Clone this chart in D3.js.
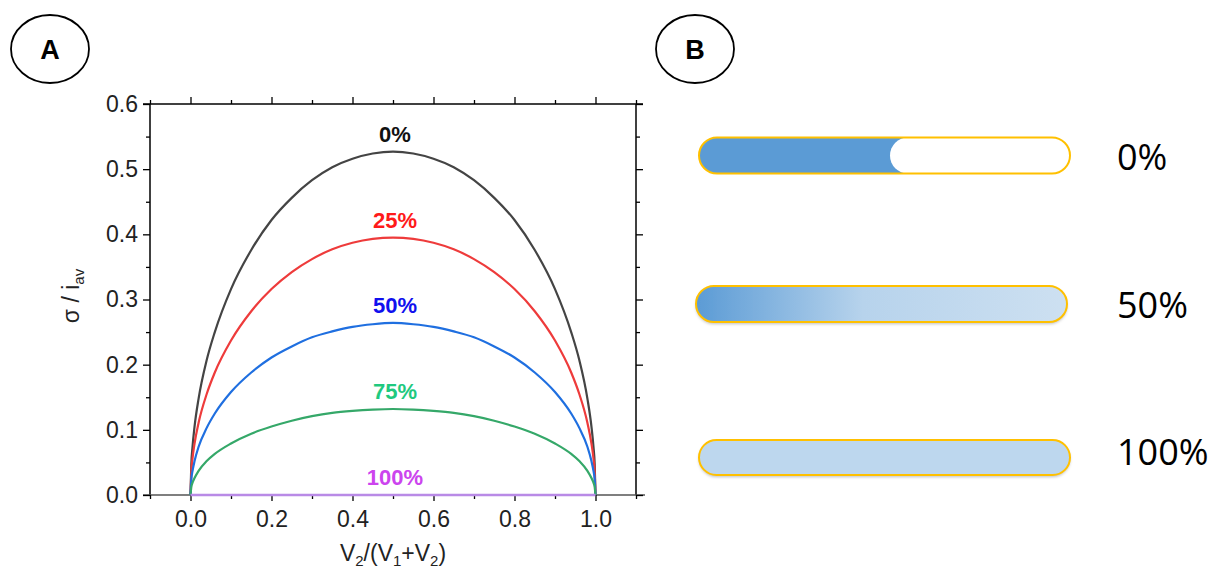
<!DOCTYPE html>
<html>
<head>
<meta charset="utf-8">
<script src="https://cdn.jsdelivr.net/npm/d3@7"></script>
<style>
  html, body { margin: 0; padding: 0; background: #fff; }
  svg { display: block; }
</style>
</head>
<body>
<svg id="chart" width="1211" height="572"></svg>
<script>
// ---------------- data ----------------
const xValues = [0, 0.002, 0.005, 0.01, 0.02, 0.04, 0.06, 0.1, 0.15, 0.2, 0.25, 0.3, 0.35, 0.4, 0.45, 0.5,
                 0.55, 0.6, 0.65, 0.7, 0.75, 0.8, 0.85, 0.9, 0.94, 0.96, 0.98, 0.99, 0.995, 0.998, 1.0];
const series0   = [0, 0.047, 0.074, 0.105, 0.148, 0.207, 0.250, 0.316, 0.376, 0.422, 0.456, 0.483, 0.503, 0.516, 0.524, 0.527,
                   0.524, 0.516, 0.503, 0.483, 0.456, 0.422, 0.376, 0.316, 0.250, 0.207, 0.148, 0.105, 0.074, 0.047, 0];
const series25  = [0, 0.035, 0.056, 0.079, 0.111, 0.155, 0.188, 0.237, 0.282, 0.316, 0.342, 0.362, 0.377, 0.387, 0.393, 0.395,
                   0.393, 0.387, 0.377, 0.362, 0.342, 0.316, 0.282, 0.237, 0.188, 0.155, 0.111, 0.079, 0.056, 0.035, 0];
const series50  = [0, 0.024, 0.037, 0.052, 0.074, 0.103, 0.125, 0.158, 0.188, 0.211, 0.228, 0.242, 0.251, 0.258, 0.262, 0.264,
                   0.262, 0.258, 0.251, 0.242, 0.228, 0.211, 0.188, 0.158, 0.125, 0.103, 0.074, 0.052, 0.037, 0.024, 0];
const series75  = [0, 0.012, 0.019, 0.026, 0.037, 0.052, 0.063, 0.079, 0.094, 0.105, 0.114, 0.121, 0.126, 0.129, 0.131, 0.132,
                   0.131, 0.129, 0.126, 0.121, 0.114, 0.105, 0.094, 0.079, 0.063, 0.052, 0.037, 0.026, 0.019, 0.012, 0];
const series100 = [0, 0, 0, 0, 0, 0, 0, 0, 0, 0, 0, 0, 0, 0, 0, 0,
                   0, 0, 0, 0, 0, 0, 0, 0, 0, 0, 0, 0, 0, 0, 0];
const seriesNames = ["0%", "25%", "50%", "75%", "100%"];
const xTickMajor = [0, 0.2, 0.4, 0.6, 0.8, 1.0];
const xTickMinor = [-0.1, 0.1, 0.3, 0.5, 0.7, 0.9, 1.1];
const yTickMajor = [0, 0.1, 0.2, 0.3, 0.4, 0.5, 0.6];
const yTickMinor = [0.05, 0.15, 0.25, 0.35, 0.45, 0.55];
const barLabels = ["0%", "50%", "100%"];

// ---------------- styles ----------------
const lineColors  = ["#444444", "#ee3b3b", "#1f6fe0", "#35a869", "#b98ae6"];
const labelColors = ["#111111", "#ff1a1a", "#1010ee", "#1fc97f", "#cc44ee"];
const tickFont = "Liberation Sans, Arial, sans-serif";

const svg = d3.select("#chart");

// scales
const x = d3.scaleLinear().domain([-0.1, 1.1]).range([150, 636]);
const y = d3.scaleLinear().domain([0, 0.6]).range([495, 104]);

// ---------------- panel A ----------------
const gA = svg.append("g");

// frame lines
gA.append("line").attr("x1", 150).attr("x2", 150).attr("y1", y(0.6)).attr("y2", y(0))
  .attr("stroke", "#000").attr("stroke-width", 1.5);
gA.append("line").attr("x1", 636).attr("x2", 636).attr("y1", y(0.6)).attr("y2", y(0))
  .attr("stroke", "#000").attr("stroke-width", 1.5);
gA.append("line").attr("x1", 143).attr("x2", 643).attr("y1", y(0.6)).attr("y2", y(0.6))
  .attr("stroke", "#000").attr("stroke-width", 1.5);
gA.append("line").attr("x1", 143).attr("x2", 645).attr("y1", y(0)).attr("y2", y(0))
  .attr("stroke", "#555").attr("stroke-width", 1.5);

function styleAxis(g) {
  g.select(".domain").remove();
  g.selectAll(".tick line").attr("stroke", "#000").attr("stroke-width", 1.3);
  g.selectAll(".tick text").attr("fill", "#222").attr("font-family", tickFont).attr("font-size", 23);
}

// bottom
gA.append("g").attr("transform", `translate(0,${y(0)})`)
  .call(d3.axisBottom(x).tickValues(xTickMajor).tickSize(6).tickPadding(10).tickFormat(d3.format(".1f")))
  .call(styleAxis);
gA.append("g").attr("transform", `translate(0,${y(0)})`)
  .call(d3.axisBottom(x).tickValues(xTickMinor).tickSize(4).tickFormat(""))
  .call(styleAxis);
// top
gA.append("g").attr("transform", `translate(0,${y(0.6)})`)
  .call(d3.axisTop(x).tickValues(xTickMajor).tickSize(7).tickFormat(""))
  .call(styleAxis);
gA.append("g").attr("transform", `translate(0,${y(0.6)})`)
  .call(d3.axisTop(x).tickValues(xTickMinor).tickSize(4).tickFormat(""))
  .call(styleAxis);
// left
gA.append("g").attr("transform", `translate(150,0)`)
  .call(d3.axisLeft(y).tickValues(yTickMajor).tickSize(7).tickPadding(5).tickFormat(d3.format(".1f")))
  .call(styleAxis);
gA.append("g").attr("transform", `translate(150,0)`)
  .call(d3.axisLeft(y).tickValues(yTickMinor).tickSize(4).tickFormat(""))
  .call(styleAxis);
// right
gA.append("g").attr("transform", `translate(636,0)`)
  .call(d3.axisRight(y).tickValues(yTickMajor).tickSize(7).tickFormat(""))
  .call(styleAxis);
gA.append("g").attr("transform", `translate(636,0)`)
  .call(d3.axisRight(y).tickValues(yTickMinor).tickSize(4).tickFormat(""))
  .call(styleAxis);

// curves
const allSeries = [series0, series25, series50, series75, series100];
const line = d3.line().x(d => x(d[0])).y(d => y(d[1])).curve(d3.curveMonotoneX);
allSeries.forEach((s, i) => {
  const pts = xValues.map((xv, k) => [xv, s[k]]);
  gA.append("path").datum(pts)
    .attr("d", line)
    .attr("fill", "none")
    .attr("stroke", lineColors[i])
    .attr("stroke-width", i === 4 ? 2.5 : 2.2);
});
// curve labels
allSeries.forEach((s, i) => {
  const peak = d3.max(s);
  gA.append("text")
    .attr("x", x(0.5) + 2)
    .attr("y", y(peak) - 10)
    .attr("text-anchor", "middle")
    .attr("font-family", tickFont)
    .attr("font-weight", "bold")
    .attr("font-size", 22)
    .attr("fill", labelColors[i])
    .text(seriesNames[i]);
});

// axis titles
const xt = gA.append("text")
  .attr("x", 393).attr("y", 561)
  .attr("text-anchor", "middle")
  .attr("font-family", tickFont).attr("font-size", 23).attr("fill", "#222");
xt.append("tspan").text("V");
xt.append("tspan").attr("font-size", 15).attr("dy", 5).text("2");
xt.append("tspan").attr("dy", -5).text("/(V");
xt.append("tspan").attr("font-size", 15).attr("dy", 5).text("1");
xt.append("tspan").attr("dy", -5).text("+V");
xt.append("tspan").attr("font-size", 15).attr("dy", 5).text("2");
xt.append("tspan").attr("dy", -5).text(")");

const yt = gA.append("text")
  .attr("transform", "translate(79,296) rotate(-90)")
  .attr("text-anchor", "middle")
  .attr("font-family", tickFont).attr("font-size", 23).attr("fill", "#222");
yt.append("tspan").text("σ / i");
yt.append("tspan").attr("font-size", 15).attr("dy", 5).text("av");

// circled panel letters
[["A", 50, 49], ["B", 695, 49]].forEach(([t, cx, cy]) => {
  svg.append("ellipse").attr("cx", cx).attr("cy", cy).attr("rx", 39).attr("ry", 34)
    .attr("fill", "none").attr("stroke", "#000").attr("stroke-width", 1.8);
  svg.append("text").attr("x", cx).attr("y", cy + 10)
    .attr("text-anchor", "middle").attr("font-family", tickFont)
    .attr("font-weight", "bold").attr("font-size", 27).attr("fill", "#000").text(t);
});

// ---------------- panel B ----------------
const defs = svg.append("defs");
const grad = defs.append("linearGradient").attr("id", "g50").attr("x1", "0%").attr("x2", "100%");
grad.append("stop").attr("offset", "0%").attr("stop-color", "#5b9bd5");
grad.append("stop").attr("offset", "45%").attr("stop-color", "#b7d3ec");
grad.append("stop").attr("offset", "100%").attr("stop-color", "#cde0f1");
const shadow = defs.append("filter").attr("id", "sh").attr("x", "-5%").attr("y", "-30%").attr("width", "110%").attr("height", "170%");
shadow.append("feDropShadow").attr("dx", 0).attr("dy", 2).attr("stdDeviation", 1.5)
  .attr("flood-color", "#000").attr("flood-opacity", 0.25);

const bars = [
  { x0: 699, x1: 1070, yc: 155.5, h: 36 },
  { x0: 696, x1: 1067, yc: 304, h: 36 },
  { x0: 699, x1: 1070, yc: 457.5, h: 35 }
];
const gB = svg.append("g");
bars.forEach((b, i) => {
  const r = b.h / 2;
  const fill = i === 0 ? "#5b9bd5" : (i === 1 ? "url(#g50)" : "#bdd7ee");
  gB.append("rect")
    .attr("x", b.x0).attr("y", b.yc - r).attr("width", b.x1 - b.x0).attr("height", b.h)
    .attr("rx", r).attr("ry", r)
    .attr("fill", fill)
    .attr("filter", i === 0 ? null : "url(#sh)");
  if (i === 0) {
    gB.append("rect")
      .attr("x", 890).attr("y", b.yc - r).attr("width", b.x1 - 890).attr("height", b.h)
      .attr("rx", r).attr("ry", r).attr("fill", "#fff");
  }
  gB.append("rect")
    .attr("x", b.x0).attr("y", b.yc - r).attr("width", b.x1 - b.x0).attr("height", b.h)
    .attr("rx", r).attr("ry", r)
    .attr("fill", "none").attr("stroke", "#ffc000").attr("stroke-width", 2);
  gB.append("text")
    .attr("x", 1117).attr("y", [170, 318, 465][i])
    .attr("font-family", "Open Sans, Lato, sans-serif")
    .attr("font-size", 36).attr("fill", "#000")
    .text(barLabels[i]);
});
</script>
</body>
</html>
